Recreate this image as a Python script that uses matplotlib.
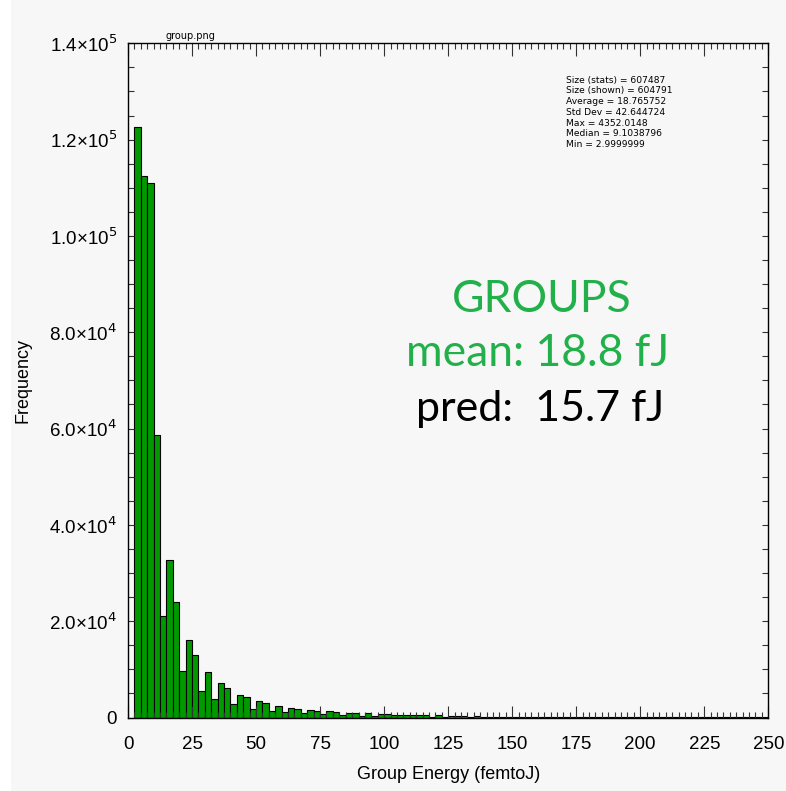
import matplotlib
matplotlib.use("Agg")
import matplotlib.pyplot as plt
from matplotlib.patches import Rectangle
from matplotlib.ticker import MultipleLocator, FixedLocator

# ---- data ----
bin_width = 2.5
bin_start = 2.5
counts = [
    122600, 112500, 111000, 58700, 21100, 32800, 24000, 9600, 16000, 12900,
    5400, 9400, 3900, 7200, 6100, 2700, 4700, 4200, 1700, 3400,
    3000, 1350, 2450, 1080, 1900, 1700, 940, 1500, 1350, 660,
    1250, 1080, 450, 940, 940, 380, 940, 380, 730, 730,
    450, 520, 450, 450, 520, 520, 150, 520, 150, 300,
    300, 250, 200, 250, 150, 200, 200, 120, 180, 150,
    110, 120, 90, 100, 80, 90, 70, 80, 60, 70,
    60, 50, 60, 50, 40, 50, 40, 45, 35, 40,
    35, 30, 35, 30, 25, 30, 25, 25, 20, 25,
    20, 20, 15, 20, 15, 15, 12, 12, 10,
]
bin_lefts = [bin_start + bin_width * i for i in range(len(counts))]

y_major_ticks = [0, 20000, 40000, 60000, 80000, 100000, 120000, 140000]
y_tick_labels = ["0", "2.0×10$^4$", "4.0×10$^4$", "6.0×10$^4$", "8.0×10$^4$",
                 "1.0×10$^5$", "1.2×10$^5$", "1.4×10$^5$"]
x_major_ticks = [0, 25, 50, 75, 100, 125, 150, 175, 200, 225, 250]

stats_lines = [
    "Size (stats) = 607487",
    "Size (shown) = 604791",
    "Average = 18.765752",
    "Std Dev = 42.644724",
    "Max = 4352.0148",
    "Median = 9.1038796",
    "Min = 2.9999999",
]

W, H = 786, 791
bg = "#f7f7f7"
fig = plt.figure(figsize=(W / 100, H / 100), dpi=100, facecolor="white")
fig.patches.append(Rectangle((11 / W, 0), (W - 11) / W, 1, transform=fig.transFigure,
                             facecolor=bg, edgecolor="none", zorder=-10))

ax = fig.add_axes([128 / W, (H - 717.5) / H, (768.3 - 128) / W, (717.5 - 43.3) / H])
ax.set_facecolor(bg)

ax.bar(bin_lefts, counts, width=bin_width, align="edge", color="#009900",
       edgecolor="black", linewidth=0.8)

ax.set_xlim(0, 250)
ax.set_ylim(0, 140000)

tickfont = "Liberation Sans"
ax.xaxis.set_major_locator(FixedLocator(x_major_ticks))
ax.xaxis.set_minor_locator(MultipleLocator(2.5))
ax.yaxis.set_major_locator(FixedLocator(y_major_ticks))
ax.yaxis.set_minor_locator(MultipleLocator(5000))
ax.set_yticklabels(y_tick_labels)
ax.set_xticklabels([str(v) for v in x_major_ticks])

ax.tick_params(axis="x", which="major", direction="in", length=9, width=0.8,
               top=True, bottom=True, labelsize=13.5, pad=13, color="#333333")
ax.tick_params(axis="x", which="minor", direction="in", length=4.5, width=0.8,
               top=True, bottom=True, color="#333333")
ax.tick_params(axis="y", which="major", direction="in", length=4.5, width=0.8,
               left=True, right=True, labelsize=13.5, pad=8, color="#333333")
ax.tick_params(axis="y", which="minor", direction="in", length=4.5, width=0.8,
               left=True, right=True, color="#333333")
for lab in ax.get_xticklabels() + ax.get_yticklabels():
    lab.set_fontfamily(tickfont)

for s in ax.spines.values():
    s.set_color("black")
    s.set_linewidth(1.0)

ax.set_xlabel("Group Energy (femtoJ)", fontsize=13, family=tickfont, labelpad=10)
ax.set_ylabel("Frequency", fontsize=13, family=tickfont, labelpad=13)

# small title
fig.text(190 / W, 1 - 41 / H, "group.png", fontsize=7, ha="center", va="bottom",
         family="DejaVu Sans")

# stats box
for i, line in enumerate(stats_lines):
    fig.text(566 / W, 1 - (80 + i * 10.8) / H, line, fontsize=6.6, ha="left",
             va="center", family="DejaVu Sans")

green = "#22b04b"
fig.text(542 / W, 1 - 299 / H, "GROUPS", fontsize=32, color=green, ha="center",
         va="center", family="Lato")
fig.text(538 / W, 1 - 354 / H, "mean: 18.8 fJ", fontsize=32, color=green,
         ha="center", va="center", family="Lato")
fig.text(540 / W, 1 - 409 / H, "pred:  15.7 fJ", fontsize=31, color="black",
         ha="center", va="center", family="Lato")

fig.savefig("out.png", dpi=100, facecolor="white")
